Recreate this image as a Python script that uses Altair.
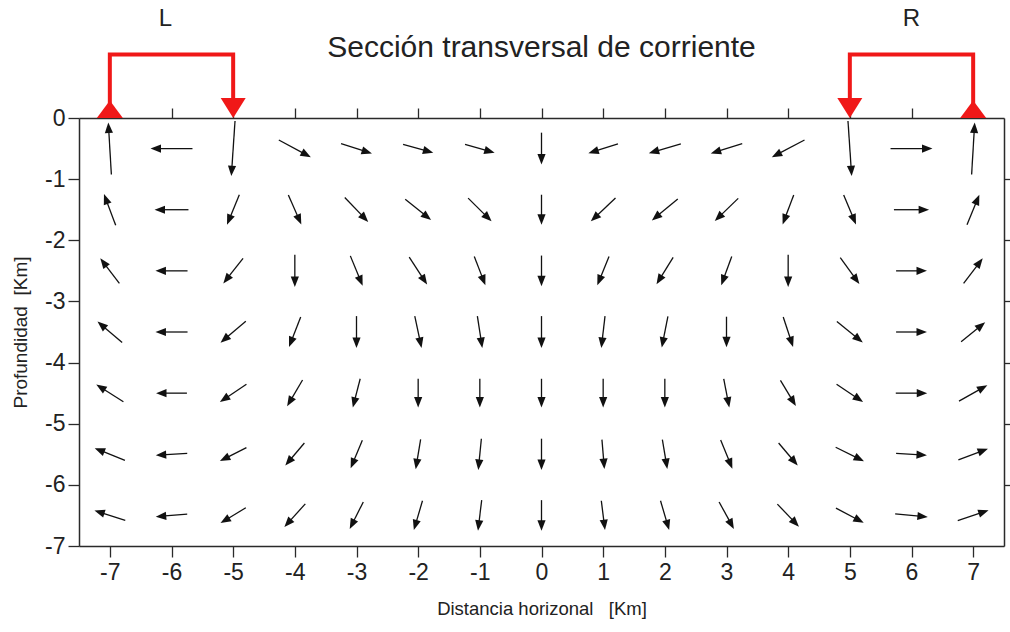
import numpy as np
import pandas as pd
import altair as alt

# Grid of the cross-section: horizontal stations (km) and depth rows (km)
xs = [-7, -6, -5, -4, -3, -2, -1, 0, 1, 2, 3, 4, 5, 6, 7]
depths = [-0.5, -1.5, -2.5, -3.5, -4.5, -5.5, -6.5]

# Horizontal component of the current at each station, one list per depth row
u_rows = [
    [-0.05, -0.68, -0.06, 0.52, 0.50, 0.49, 0.48, 0.00, -0.48, -0.52, -0.51, -0.53, 0.06, 0.68, 0.05],
    [-0.19, -0.55, -0.20, 0.21, 0.38, 0.42, 0.38, 0.00, -0.40, -0.42, -0.38, -0.18, 0.20, 0.57, 0.20],
    [-0.31, -0.52, -0.32, 0.00, 0.20, 0.29, 0.18, 0.00, -0.19, -0.27, -0.17, 0.00, 0.31, 0.50, 0.31],
    [-0.40, -0.52, -0.41, -0.19, 0.00, 0.11, 0.08, 0.00, -0.06, -0.10, 0.00, 0.16, 0.42, 0.50, 0.39],
    [-0.44, -0.50, -0.43, -0.25, -0.12, 0.00, 0.00, 0.00, 0.00, 0.00, 0.09, 0.25, 0.43, 0.51, 0.46],
    [-0.49, -0.51, -0.43, -0.31, -0.19, -0.08, -0.05, 0.00, 0.04, 0.08, 0.19, 0.31, 0.46, 0.50, 0.48],
    [-0.50, -0.51, -0.41, -0.34, -0.22, -0.14, -0.06, 0.00, 0.06, 0.14, 0.24, 0.35, 0.45, 0.53, 0.50],
]

# Vertical component (positive = upward), same layout
v_rows = [
    [0.85, 0.00, -0.90, -0.28, -0.16, -0.14, -0.14, -0.52, -0.15, -0.15, -0.16, -0.28, -0.90, 0.00, 0.85],
    [0.51, 0.00, -0.49, -0.48, -0.40, -0.34, -0.38, -0.49, -0.38, -0.35, -0.37, -0.48, -0.48, 0.00, 0.49],
    [0.41, 0.00, -0.41, -0.53, -0.49, -0.45, -0.47, -0.50, -0.47, -0.44, -0.47, -0.53, -0.43, 0.00, 0.41],
    [0.34, 0.00, -0.35, -0.49, -0.52, -0.52, -0.52, -0.52, -0.52, -0.51, -0.50, -0.49, -0.34, 0.00, 0.32],
    [0.28, 0.00, -0.29, -0.43, -0.47, -0.47, -0.47, -0.47, -0.47, -0.47, -0.47, -0.42, -0.29, 0.00, 0.26],
    [0.20, -0.03, -0.22, -0.37, -0.46, -0.49, -0.51, -0.51, -0.48, -0.48, -0.47, -0.37, -0.23, -0.03, 0.18],
    [0.16, -0.04, -0.25, -0.38, -0.44, -0.48, -0.50, -0.50, -0.48, -0.48, -0.44, -0.37, -0.24, -0.05, 0.17],
]

# Surface circulation cells drawn above the section (L and R)
cell_side = ["L", "L", "L", "L", "R", "R", "R", "R"]
cell_order = [0, 1, 2, 3, 0, 1, 2, 3]
cell_x = [-7, -7, -5, -5, 5, 5, 7, 7]
cell_y = [0, 1.04, 1.04, 0.3, 0.3, 1.04, 1.04, 0]
rise_x = [-7, 7]
sink_x = [-5, 5]
cell_labels = ["L", "R"]
cell_label_x = [-6.1, 6.0]
cell_label_y = [1.62, 1.62]

W, H = 925, 428
X_DOM = [-7.5, 7.5]
Y_DOM = [-7, 0]
kx = W / (X_DOM[1] - X_DOM[0])
ky = H / (Y_DOM[1] - Y_DOM[0])

recs = []
for i, d in enumerate(depths):
    for j, x in enumerate(xs):
        recs.append({"x": x, "d": d, "u": u_rows[i][j], "v": v_rows[i][j]})
df = pd.DataFrame(recs)
df["x0"] = df["x"] - df["u"] / 2
df["y0"] = df["d"] - df["v"] / 2
df["x1"] = df["x"] + df["u"] / 2
df["y1"] = df["d"] + df["v"] / 2
lpx = np.hypot(df["u"] * kx, df["v"] * ky)
head_px = 6.0
df["xe"] = df["x1"] - df["u"] * head_px / lpx
df["ye"] = df["y1"] - df["v"] * head_px / lpx
df["ang"] = np.degrees(np.arctan2(df["u"] * kx, df["v"] * ky)) % 360

bracket = pd.DataFrame({"side": cell_side, "k": cell_order, "bx": cell_x, "by": cell_y})
rise = pd.DataFrame({"bx": rise_x, "by": [0] * len(rise_x)})
sink = pd.DataFrame({"bx": sink_x, "by": [0] * len(sink_x)})
labels = pd.DataFrame({"t": cell_labels, "bx": cell_label_x, "by": cell_label_y})

FONT = "Liberation Sans"
INK = "#111111"
AX = "#2a2a2a"
RED = "#f01818"

xscale = alt.Scale(domain=X_DOM, nice=False, zero=False)
yscale = alt.Scale(domain=Y_DOM, nice=False, zero=False)
minus_fix = "datum.value < 0 ? '-' + abs(datum.value) : '' + datum.value"

axis_common = dict(
    grid=False, domainColor=AX, domainWidth=1.5, tickColor=AX, tickWidth=1.3,
    labelFont=FONT, labelFontSize=23, labelColor="#222222",
    titleFont=FONT, titleFontWeight="normal", titleColor="#222222",
)

bottom_axis = alt.Axis(
    orient="bottom", values=xs, tickSize=11, labelPadding=4, labelExpr=minus_fix,
    title="Distancia horizonal\u00a0\u00a0\u00a0[Km]", titleFontSize=18.5, titlePadding=15,
    **axis_common,
)
left_axis = alt.Axis(
    orient="left", values=list(range(0, -8, -1)), tickSize=11, labelPadding=3,
    labelExpr=minus_fix, title="Profundidad\u00a0\u00a0[Km]", titleFontSize=19,
    titlePadding=14, **axis_common,
)
top_axis = alt.Axis(orient="top", values=xs, tickSize=10, labels=False, title=None, **axis_common)
right_axis = alt.Axis(orient="right", values=list(range(-1, -7, -1)), tickSize=6,
                      labels=False, title=None, **axis_common)

# Shafts of the current vectors
shafts = alt.Chart(df).mark_rule(color=INK, strokeWidth=1.3, strokeCap="butt").encode(
    x=alt.X("x0:Q", scale=xscale, axis=bottom_axis),
    y=alt.Y("y0:Q", scale=yscale, axis=left_axis),
    x2="xe:Q",
    y2="ye:Q",
)

# Arrowheads: tip at the symbol origin, rotated to the vector direction
heads = alt.Chart(df).mark_point(
    shape="M0,0L-0.45,1.15L0.45,1.15Z", filled=True, size=330, color=INK,
    opacity=1, strokeWidth=0,
).encode(
    x=alt.X("x1:Q", scale=xscale, axis=None),
    y=alt.Y("y1:Q", scale=yscale, axis=None),
    angle=alt.Angle("ang:Q", scale=None),
)

# Frame axes on top and right
frame = alt.Chart(df).mark_point(opacity=0).encode(
    x=alt.X("x:Q", scale=xscale, axis=top_axis),
    y=alt.Y("d:Q", scale=yscale, axis=right_axis),
)

cells = alt.Chart(bracket).mark_line(color=RED, strokeWidth=4, clip=False,
                                     strokeJoin="miter", strokeCap="butt").encode(
    x=alt.X("bx:Q", scale=xscale, axis=None),
    y=alt.Y("by:Q", scale=yscale, axis=None),
    detail="side:N",
    order="k:Q",
)

rise_marks = alt.Chart(rise).mark_point(
    shape="M-1,0L1,0L0,-1.35Z", filled=True, size=676, color=RED, opacity=1,
    strokeWidth=0, clip=False,
).encode(
    x=alt.X("bx:Q", scale=xscale, axis=None),
    y=alt.Y("by:Q", scale=yscale, axis=None),
)

sink_marks = alt.Chart(sink).mark_point(
    shape="M0,0L-1,-1.6L1,-1.6Z", filled=True, size=625, color=RED, opacity=1,
    strokeWidth=0, clip=False,
).encode(
    x=alt.X("bx:Q", scale=xscale, axis=None),
    y=alt.Y("by:Q", scale=yscale, axis=None),
)

cell_text = alt.Chart(labels).mark_text(
    font=FONT, fontSize=24, color="#222222", baseline="middle", align="center", clip=False,
).encode(
    x=alt.X("bx:Q", scale=xscale, axis=None),
    y=alt.Y("by:Q", scale=yscale, axis=None),
    text="t:N",
)

chart = alt.layer(
    frame, shafts, heads, cells, rise_marks, sink_marks, cell_text,
).resolve_axis(
    x="independent", y="independent",
).properties(
    width=W,
    height=H,
    title=alt.TitleParams(
        "Sección transversal de corriente", font=FONT, fontSize=30,
        fontWeight="normal", color="#222222", anchor="middle", baseline="alphabetic",
        offset=-80,
    ),
    autosize=alt.AutoSizeParams(type="none"),
    padding={"left": 79, "top": 118, "right": 6, "bottom": 86},
).configure_view(stroke=None).configure(background="white")

chart.save("out.html", embed_options={"renderer": "svg", "actions": False})
